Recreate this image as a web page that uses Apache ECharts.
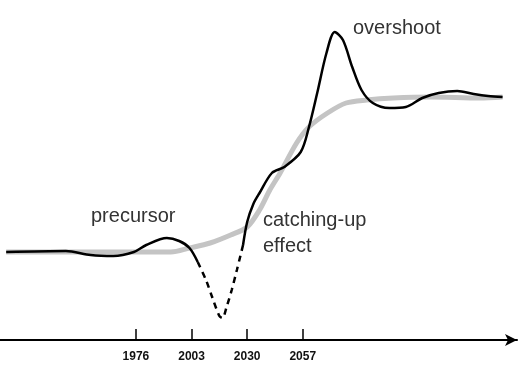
<!DOCTYPE html>
<html>
<head>
<meta charset="utf-8">
<script src="https://cdn.jsdelivr.net/npm/echarts@6/dist/echarts.min.js"></script>
<style>
  html, body { margin: 0; padding: 0; background: #fff; }
  #chart { width: 527px; height: 377px; }
</style>
</head>
<body>
<div id="chart"></div>
<script>
  // tick years shown on the time axis
  var tickYears = [1976, 2003, 2030, 2057];

  // smooth trend (gray S-curve): [year, level]
  var trend = [
    [1913, 88], [1955, 88], [1993, 88], [2002, 92], [2012, 97], [2022, 105],
    [2030, 113], [2036, 130], [2041, 150], [2046, 167], [2054, 197], [2060, 213],
    [2069, 227], [2078, 237], [2088, 240], [2101, 242], [2119, 243], [2143, 242], [2154, 243]
  ];

  // actual path, before the dip
  var actualBefore = [
    [1913, 88], [1942, 89], [1954, 85], [1965, 84], [1975, 88], [1981, 95],
    [1991, 102], [1997, 99], [2002, 92], [2006, 78]
  ];

  // dashed dip
  var actualDip = [
    [2006, 78], [2010, 60], [2013, 43], [2016.5, 24], [2018, 22], [2020, 33],
    [2022.5, 50], [2025, 70], [2028, 95]
  ];

  // actual path after the dip (catching-up, overshoot)
  var actualAfter = [
    [2028, 95], [2030, 118], [2033, 136], [2036, 147], [2042, 167], [2048, 173],
    [2056, 188], [2060, 213], [2064, 247], [2068.5, 287], [2072.5, 308], [2076.5, 300],
    [2081, 273], [2085.5, 250], [2091, 237], [2099, 232], [2107, 233], [2115, 242],
    [2123, 247], [2132, 249], [2140, 246], [2147, 244], [2154, 243]
  ];

  var myChart = echarts.init(document.getElementById('chart'));

  var textStyle = { fill: '#333', fontSize: 20, fontFamily: 'Liberation Sans, Arial, sans-serif' };

  myChart.setOption({
    animation: false,
    backgroundColor: '#fff',
    grid: { left: 0, right: 10, top: 0, bottom: 37 },
    xAxis: {
      type: 'value',
      min: 1910,
      max: 2161,
      splitLine: { show: false },
      axisLine: {
        show: true,
        symbol: ['none', 'arrow'],
        symbolSize: [9, 12],
        lineStyle: { color: '#000', width: 2 }
      },
      axisTick: {
        show: true,
        inside: true,
        length: 11,
        customValues: tickYears,
        lineStyle: { color: '#000', width: 1.5 }
      },
      axisLabel: {
        customValues: tickYears,
        formatter: function (v) { return String(v); },
        color: '#111',
        fontWeight: 'bold',
        fontSize: 12,
        fontFamily: 'Liberation Sans, Arial, sans-serif',
        margin: 11
      }
    },
    yAxis: {
      type: 'value',
      min: 0,
      max: 340,
      show: false
    },
    series: [
      {
        type: 'line',
        data: trend,
        smooth: 0.3,
        symbol: 'none',
        lineStyle: { color: '#c4c4c4', width: 5 }
      },
      {
        type: 'line',
        data: actualBefore,
        smooth: 0.3,
        symbol: 'none',
        lineStyle: { color: '#000', width: 2.5 }
      },
      {
        type: 'line',
        data: actualDip,
        smooth: 0.3,
        symbol: 'none',
        lineStyle: { color: '#000', width: 2.5, type: [6, 5] }
      },
      {
        type: 'line',
        data: actualAfter,
        smooth: 0.3,
        symbol: 'none',
        lineStyle: { color: '#000', width: 2.5 }
      }
    ],
    graphic: [
      { type: 'text', left: 91, top: 206, style: Object.assign({ text: 'precursor' }, textStyle) },
      { type: 'text', left: 263, top: 210, style: Object.assign({ text: 'catching-up' }, textStyle) },
      { type: 'text', left: 263, top: 236, style: Object.assign({ text: 'effect' }, textStyle) },
      { type: 'text', left: 353, top: 18, style: Object.assign({ text: 'overshoot' }, textStyle) }
    ]
  });
</script>
</body>
</html>
